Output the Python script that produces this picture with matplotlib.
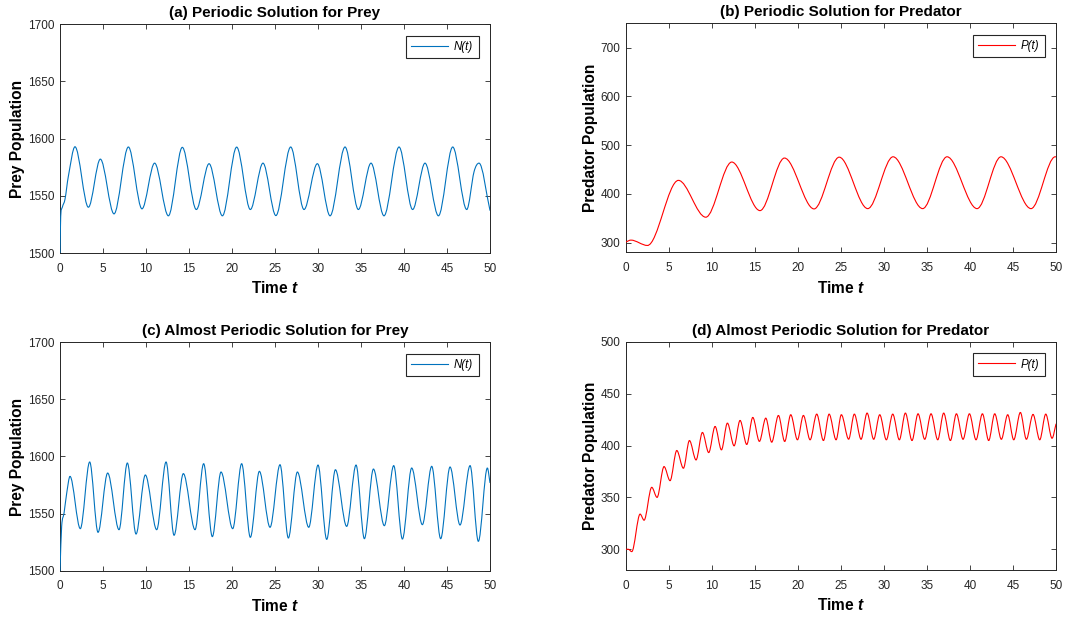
import numpy as np
import matplotlib
matplotlib.use("Agg")
import matplotlib.pyplot as plt
from matplotlib.path import Path
from matplotlib.patches import PathPatch
from matplotlib.lines import Line2D

plt.rcParams['font.family'] = ['Liberation Sans', 'DejaVu Sans']
plt.rcParams['mathtext.fontset'] = 'custom'
plt.rcParams['mathtext.it'] = 'Liberation Sans:bold:italic'
plt.rcParams['mathtext.rm'] = 'Liberation Sans:bold'

# ---- data (turning points of each curve) ----
# (a) periodic, prey
t_a = [0, 0.08, 0.27, 0.58, 0.97, 1.74, 3.3, 4.69, 6.28, 7.95, 9.53, 11.0, 12.6,
       14.22, 15.85, 17.33, 18.88, 20.54, 22.13, 23.6, 25.1, 26.82, 28.37, 29.92,
       31.4, 33.14, 34.69, 36.16, 37.67, 39.42, 41.0, 42.44, 44.0, 45.66, 47.29,
       48.14, 48.72, 50.0]
n_a = [1500, 1532, 1540, 1547, 1567, 1592.8, 1540, 1582, 1534.2, 1592.6, 1538.6,
       1578.5, 1532.5, 1592.3, 1538, 1578, 1532.5, 1592.5, 1538, 1578.5, 1532.7,
       1592.6, 1538, 1578, 1532.5, 1592.6, 1538, 1578.5, 1532.5, 1592.6, 1538,
       1578.5, 1532.5, 1592.6, 1538, 1571, 1578.5, 1537]

# (b) periodic, predator
t_b = [0, 0.6, 2.52, 6.12, 9.3, 12.32, 15.6, 18.44, 21.88, 24.8, 28.12, 31.06,
       34.5, 37.33, 40.82, 43.6, 47.09, 49.9, 50.0]
p_b = [301, 305, 294, 427.6, 352, 465.2, 365.5, 473.4, 369, 475.2, 369.6, 476,
       369.6, 476, 369.6, 476, 369.6, 476, 475.8]

# (c) almost periodic, prey
t_c = [0, 0.19, 0.47, 0.78, 1.16, 2.36, 3.45, 4.42, 5.54, 6.86, 7.83, 8.84, 9.92,
       11.24, 12.33, 13.26, 14.34, 15.7, 16.7, 17.71, 18.72, 20.08, 21.12, 22.13,
       23.18, 24.42, 25.58, 26.55, 27.6, 28.92, 30.0, 31.01, 32.02, 33.33, 34.42,
       35.39, 36.44, 37.71, 38.8, 39.81, 40.89, 42.13, 43.22, 44.26, 45.35, 46.51,
       47.68, 48.64, 49.69, 50.0]
n_c = [1500, 1538.8, 1550.5, 1568, 1582.6, 1536.8, 1595.2, 1533.6, 1585.5, 1535.9,
       1594.3, 1532.1, 1583.8, 1535.9, 1595.2, 1531, 1585, 1535.9, 1593.7, 1529.8,
       1586.4, 1536.8, 1593.7, 1529.2, 1587, 1538, 1592.8, 1528.6, 1586.4, 1538,
       1592.5, 1527.4, 1588.4, 1538.8, 1592.5, 1528, 1589, 1539.4, 1592, 1527.7,
       1589.9, 1540.3, 1591.4, 1528, 1590.8, 1540, 1592, 1525.7, 1589.9, 1576.8]

# (d) almost periodic, predator
t_d = [0, 0.3, 0.7, 1.67, 2.13, 3.02, 3.64, 4.45, 5.15, 5.93, 6.7, 7.4, 8.17,
       8.91, 9.64, 10.38, 11.12, 11.81, 12.59, 13.28, 14.06, 14.76, 15.53, 16.27,
       16.96, 17.74, 18.47, 19.17, 19.95, 20.64, 21.42, 22.19, 22.97, 23.63, 24.44,
       25.05, 25.9, 26.56, 27.34, 28.04, 28.81, 29.51, 30.28, 31.02, 31.79, 32.49,
       33.26, 33.96, 34.74, 35.47, 36.25, 36.94, 37.72, 38.42, 39.19, 39.93, 40.7,
       41.44, 42.17, 42.87, 43.64, 44.38, 45.08, 45.85, 46.55, 47.32, 48.1, 48.8,
       49.53, 50.0]
p_d = [300, 300, 297.7, 333.9, 328, 359.7, 350, 379.7, 366.1, 395.2, 378.1, 404.8,
       386.1, 412.6, 393.2, 418.4, 395.8, 421.6, 399.7, 424.2, 401, 427.1, 404,
       426.4, 403.2, 429, 403.9, 429.7, 405.5, 429, 405.5, 430.3, 404.8, 430.3,
       405.5, 429.7, 406.1, 430.3, 406, 431.3, 406, 429.7, 405.5, 430.3, 405.5,
       431.3, 404.8, 430.6, 406, 430.6, 405.5, 431.3, 404.8, 430.6, 406, 430.6,
       405.5, 430.6, 404.8, 430.6, 406, 429.7, 405.5, 431.9, 406, 430, 405.5, 430.3,
       407, 421]

BLUE = '#0072BD'
RED = '#FF0000'
AX_COL = '#262626'


def smooth_path(t, y):
    # cubic segments through the read points, flat at turning points
    t = np.asarray(t, float)
    y = np.asarray(y, float)
    n = len(t)
    m = np.zeros(n)
    for i in range(n):
        if i == 0:
            m[i] = (y[1] - y[0]) / (t[1] - t[0])
        elif i == n - 1:
            m[i] = (y[-1] - y[-2]) / (t[-1] - t[-2])
        else:
            d0 = y[i] - y[i - 1]
            d1 = y[i + 1] - y[i]
            if d0 * d1 <= 0:
                m[i] = 0
            else:
                m[i] = (y[i + 1] - y[i - 1]) / (t[i + 1] - t[i - 1])
    verts = [(t[0], y[0])]
    codes = [Path.MOVETO]
    for i in range(n - 1):
        h = t[i + 1] - t[i]
        verts += [(t[i] + h / 3, y[i] + m[i] * h / 3),
                  (t[i + 1] - h / 3, y[i + 1] - m[i + 1] * h / 3),
                  (t[i + 1], y[i + 1])]
        codes += [Path.CURVE4] * 3
    return Path(verts, codes)


def panel(ax, t, y, color, title, ylabel, label, ylim, yticks):
    ax.add_patch(PathPatch(smooth_path(t, y), fill=False, edgecolor=color,
                           lw=0.8, zorder=3))
    ax.set_xlim(0, 50)
    ax.set_ylim(*ylim)
    ax.set_xticks(range(0, 51, 5))
    ax.set_yticks(yticks)
    ax.tick_params(direction='in', top=True, right=True, length=3.5, width=0.6,
                   colors=AX_COL, labelsize=8.5)
    ax.tick_params(axis='x', pad=7)
    ax.tick_params(axis='y', pad=4)
    for s in ax.spines.values():
        s.set_color(AX_COL)
        s.set_linewidth(0.7)
    ax.set_title(title, fontsize=11, fontweight='bold', pad=5)
    ax.set_xlabel('Time $t$', fontsize=11.2, fontweight='bold', labelpad=4)
    ax.set_ylabel(ylabel, fontsize=11.2, fontweight='bold', labelpad=2)
    h = Line2D([], [], color=color, lw=0.8)
    leg = ax.legend([h], [label], loc='upper right', fancybox=False,
                    prop={'style': 'italic', 'size': 8.3}, handlelength=3.2,
                    handletextpad=0.5, borderpad=0.45, borderaxespad=1.0,
                    framealpha=1)
    leg.get_frame().set_edgecolor(AX_COL)
    leg.get_frame().set_linewidth(0.8)


fig = plt.figure(figsize=(10.66, 6.22), dpi=100)
ax1 = fig.add_axes([0.0563, 0.5932, 0.4034, 0.3682])
ax2 = fig.add_axes([0.587, 0.5944, 0.4037, 0.3682])
ax3 = fig.add_axes([0.0563, 0.0825, 0.4034, 0.3672])
ax4 = fig.add_axes([0.587, 0.0836, 0.4037, 0.3669])

panel(ax1, t_a, n_a, BLUE, '(a) Periodic Solution for Prey', 'Prey Population',
      'N(t)', (1500, 1700), range(1500, 1701, 50))
panel(ax2, t_b, p_b, RED, '(b) Periodic Solution for Predator', 'Predator Population',
      'P(t)', (280, 750), range(300, 701, 100))
panel(ax3, t_c, n_c, BLUE, '(c) Almost Periodic Solution for Prey', 'Prey Population',
      'N(t)', (1500, 1700), range(1500, 1701, 50))
panel(ax4, t_d, p_d, RED, '(d) Almost Periodic Solution for Predator',
      'Predator Population', 'P(t)', (280, 500), range(300, 501, 50))

fig.savefig('out.png', dpi=100)
